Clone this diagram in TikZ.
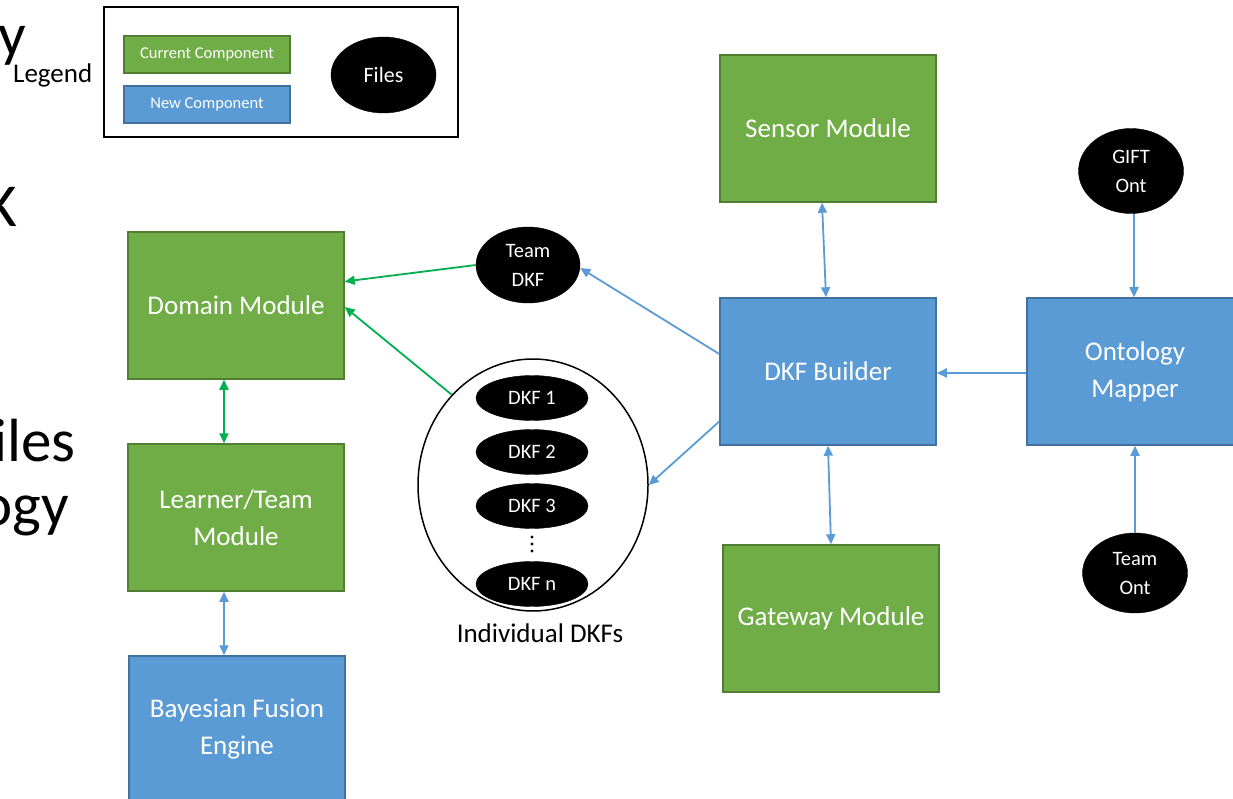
\documentclass[tikz,border=0pt]{standalone}
\usepackage{fontspec}
\setmainfont{Carlito}
\usetikzlibrary{shapes.geometric,arrows.meta}
\definecolor{cgreen}{HTML}{70AD47}
\definecolor{cgreenline}{HTML}{507E32}
\definecolor{cblue}{HTML}{5B9BD5}
\definecolor{cblueline}{HTML}{41719C}
\definecolor{agreen}{HTML}{00B050}
\begin{document}
\begin{tikzpicture}[x=1pt,y=-1pt,
  >={Triangle[length=10pt,width=9pt]},
  comp/.style={draw, line width=1.5pt, minimum width=216pt, minimum height=147pt,
    inner sep=0pt, text=white, align=center, font=\fontsize{27}{37}\selectfont},
  current/.style={comp, fill=cgreen, draw=cgreenline},
  newcomp/.style={comp, fill=cblue, draw=cblueline},
  file/.style={ellipse, fill=black, draw=black, text=white, inner sep=0pt,
    align=center, font=\fontsize{20.5}{29}\selectfont},
  keybox/.style={draw, line width=1.2pt, minimum width=166pt, minimum height=37pt,
    inner sep=0pt, text=white, font=\fontsize{16.5}{20}\selectfont},
  title/.style={inner sep=0pt, font=\fontsize{61}{65}\selectfont},
  blink/.style={draw=cblue, line width=1.8pt, ->},
  bblink/.style={draw=cblue, line width=1.8pt, <->},
  glink/.style={draw=agreen, line width=1.8pt, ->},
  gglink/.style={draw=agreen, line width=1.8pt, <->},
]
\useasboundingbox (0,0) rectangle (1233,799);
\clip (0,0) rectangle (1233,799);

% slide title text running off the left edge
\node[title, anchor=base east] (ty) at (26,56) {y};
\node[inner sep=0pt, anchor=base west, font=\fontsize{27}{30}\selectfont] (tleg) at (13,83) {Legend};
\node[title, anchor=base east] (tk) at (17,227) {K};
\node[title, anchor=base east] (tiles) at (76,461) {iles};
\node[title, anchor=base east] (togy) at (69,525) {ogy};

% legend
\node[draw, line width=2pt, minimum width=354pt, minimum height=130pt, inner sep=0pt] (legend) at (281,72) {};
\node[keybox, fill=cgreen, draw=cgreenline] (kcur) at (207,54.5) {Current Component};
\node[keybox, fill=cblue, draw=cblueline] (knew) at (207,104.5) {New Component};
\node[file, minimum width=105pt, minimum height=76pt, font=\fontsize{22}{26}\selectfont] (kfiles) at (383.5,75) {Files};

% components
\node[current] (domain) at (236,305.5) {Domain Module};
\node[current] (learner) at (236,517.5) {Learner/Team\\Module};
\node[newcomp] (bayes) at (237,729.5) {Bayesian Fusion\\Engine};
\node[current] (sensor) at (828,128.5) {Sensor Module};
\node[newcomp] (builder) at (828,371.5) {DKF Builder};
\node[current] (gateway) at (831,618.5) {Gateway Module};
\node[newcomp] (onto) at (1135,371.5) {Ontology\\Mapper};

% files
\node[file, minimum width=104pt, minimum height=76pt] (tdkf) at (528,265) {Team\\DKF};
\node[file, minimum width=105pt, minimum height=85pt] (gift) at (1131,171) {GIFT\\Ont};
\node[file, minimum width=105pt, minimum height=80pt] (tont) at (1135,573) {Team\\Ont};

% individual DKFs
\node[ellipse, draw, line width=1.5pt, minimum width=230pt, minimum height=252pt, inner sep=0pt] (dkfs) at (533,485) {};
\node[file, minimum width=112pt, minimum height=45pt] (d1) at (532,398) {DKF 1};
\node[file, minimum width=112pt, minimum height=45pt] (d2) at (532,452) {DKF 2};
\node[file, minimum width=112pt, minimum height=45pt] (d3) at (532,506) {DKF 3};
\node[file, minimum width=112pt, minimum height=45pt] (dn) at (532,584) {DKF n};
\fill (532,537) circle (1.6) (532,544) circle (1.6) (532,551) circle (1.6);
\node[inner sep=0pt, font=\fontsize{27}{30}\selectfont] (dlabel) at (540,633) {Individual DKFs};

% connectors
\draw[glink] (tdkf.west) -- ([yshift=24pt]domain.east);
\draw[glink] (dkfs.132) -- ([yshift=-1.5pt]domain.east);
\draw[gglink] ([xshift=-12pt]domain.south) -- ([xshift=-12pt]learner.north);
\draw[bblink] ([xshift=-12pt]learner.south) -- ([xshift=-13pt]bayes.north);
\draw[blink] ([yshift=17.5pt]builder.west) -- ([yshift=-3pt]tdkf.east);
\draw[blink] ([yshift=-50pt]builder.west) -- (dkfs.east);
\draw[bblink] ([xshift=-6pt]sensor.south) -- ([xshift=-2pt]builder.north);
\draw[bblink] (builder.south) -- (gateway.north);
\draw[blink] ([yshift=-1.5pt]onto.west) -- ([yshift=-1.5pt]builder.east);
\draw[blink] ([xshift=3pt]gift.south) -- ([xshift=3pt]gift.south |- onto.north);
\draw[blink] (tont.north) -- (tont.north |- onto.south);
\end{tikzpicture}
\end{document}
